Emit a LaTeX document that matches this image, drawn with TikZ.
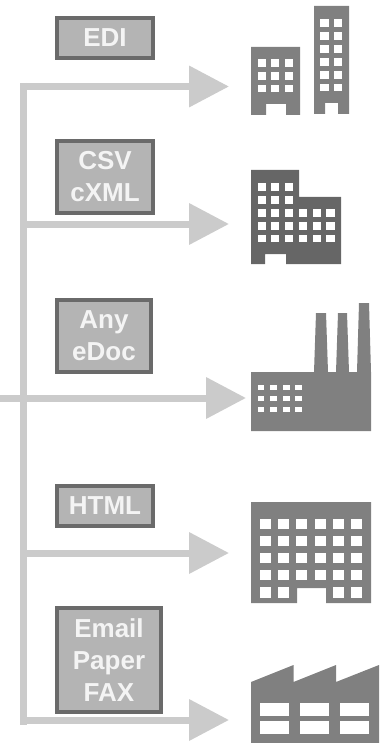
\documentclass[tikz,border=0pt]{standalone}
\usepackage{fontspec}
\setmainfont{Liberation Sans}
\usetikzlibrary{arrows.meta}
\definecolor{flowgray}{HTML}{CBCBCB}
\definecolor{boxfill}{HTML}{B4B4B4}
\definecolor{boxline}{HTML}{6A6A6A}
\definecolor{bldg}{HTML}{808080}
\definecolor{bldgdark}{HTML}{666666}
\definecolor{labeltext}{HTML}{F4F4F4}
\tikzset{
  x=1pt,y=-1pt,
  format/.style={draw=boxline,line width=4pt,fill=boxfill,inner sep=0pt,text=labeltext,
    font=\fontsize{26}{32}\selectfont\bfseries,align=center,anchor=north west},
  flow/.style={draw=flowgray,line width=7pt,-{Triangle[length=40pt,width=40pt,fill=flowgray]}},
  trunk/.style={draw=flowgray,line width=7pt},
  win/.style={fill=white,draw=none},
}
\newcommand{\winrects}[2]{\foreach \xa/\xb in {#1}{\foreach \ya/\yb in {#2}{\fill[win] (\xa,\ya) rectangle (\xb,\yb);}}}
\begin{document}
\begin{tikzpicture}
\useasboundingbox (0,0) rectangle (385,743);
% trunk and arrows
\coordinate (top) at (23.5,83);
\coordinate (bottom) at (23.5,725);
\coordinate (t1) at (23.5,86.5);  \coordinate (h1) at (229,86.5);
\coordinate (t2) at (23.5,224);   \coordinate (h2) at (229,224);
\coordinate (t3) at (0,398);      \coordinate (h3) at (246,398);
\coordinate (t4) at (23.5,553);   \coordinate (h4) at (229,553);
\coordinate (t5) at (23.5,720);   \coordinate (h5) at (229,720);
\draw[trunk] (top) -- (bottom);
\foreach \i in {1,...,5}{\draw[flow] (t\i) -- (h\i);}
% format boxes
\node[format,minimum width=96pt,minimum height=40pt] (edi) at (55,16) {EDI};
\node[format,minimum width=96pt,minimum height=72pt] (csv) at (55,139) {CSV\\cXML};
\node[format,minimum width=94pt,minimum height=72pt] (any) at (55,298) {Any\\eDoc};
\node[format,minimum width=96pt,minimum height=40pt] (html) at (55,484) {HTML};
\node[format,minimum width=104pt,minimum height=104pt] (mail) at (55,606) {Email\\Paper\\FAX};
% building 1a
\fill[bldg] (251,47) -- (300,47) -- (300,115) -- (286,115) -- (286,104) -- (266,104) -- (266,115) -- (251,115) -- cycle;
\winrects{258/266,271/279,285/293}{59/67,72/80,85/92}
% building 1b
\fill[bldg] (314,6) -- (349,6) -- (349,114) -- (338,114) -- (338,103) -- (325,103) -- (325,114) -- (314,114) -- cycle;
\winrects{320/329,334/342}{19/27,32/40,45/53,58/66,71/79,84/91}
% building 2
\fill[bldgdark] (251,170) -- (299,170) -- (299,197) -- (341,197) -- (341,264) -- (286,264) -- (286,254) -- (265,254) -- (265,264) -- (251,264) -- cycle;
\winrects{258/266,271/279,285/293}{183/191,196/204}
\winrects{258/266,271/279,285/293,299/307,313/321,326/335}{209/217,222/230,235/242}
% factory with chimneys
\fill[bldg] (251,372) -- (314,372) -- (316,313) -- (326,313) -- (328,372) -- (336,372) -- (338,313) -- (347,313) -- (349,372) -- (357,372) -- (359,303) -- (369,303) -- (371,372) -- (371,431) -- (251,431) -- cycle;
\winrects{258/264,270/277,283/290,295/302}{385/390,396/401,407/412}
% office block
\fill[bldg] (251,502) -- (371,502) -- (371,603) -- (326,603) -- (326,588) -- (297,588) -- (297,603) -- (251,603) -- cycle;
\winrects{260/271,278/289,296/307,315/326,333/344,351/362}{519/529,536/546,553/563,570/580}
\winrects{260/271,278/289,333/344,351/362}{587/598}
% sawtooth factory
\fill[bldg] (251,682) -- (293.5,665) -- (293.5,682) -- (336,665) -- (336,682) -- (379,665) -- (379,743) -- (251,743) -- cycle;
\winrects{260/289,300/329,340/369}{703/716,721/734}
\end{tikzpicture}
\end{document}
